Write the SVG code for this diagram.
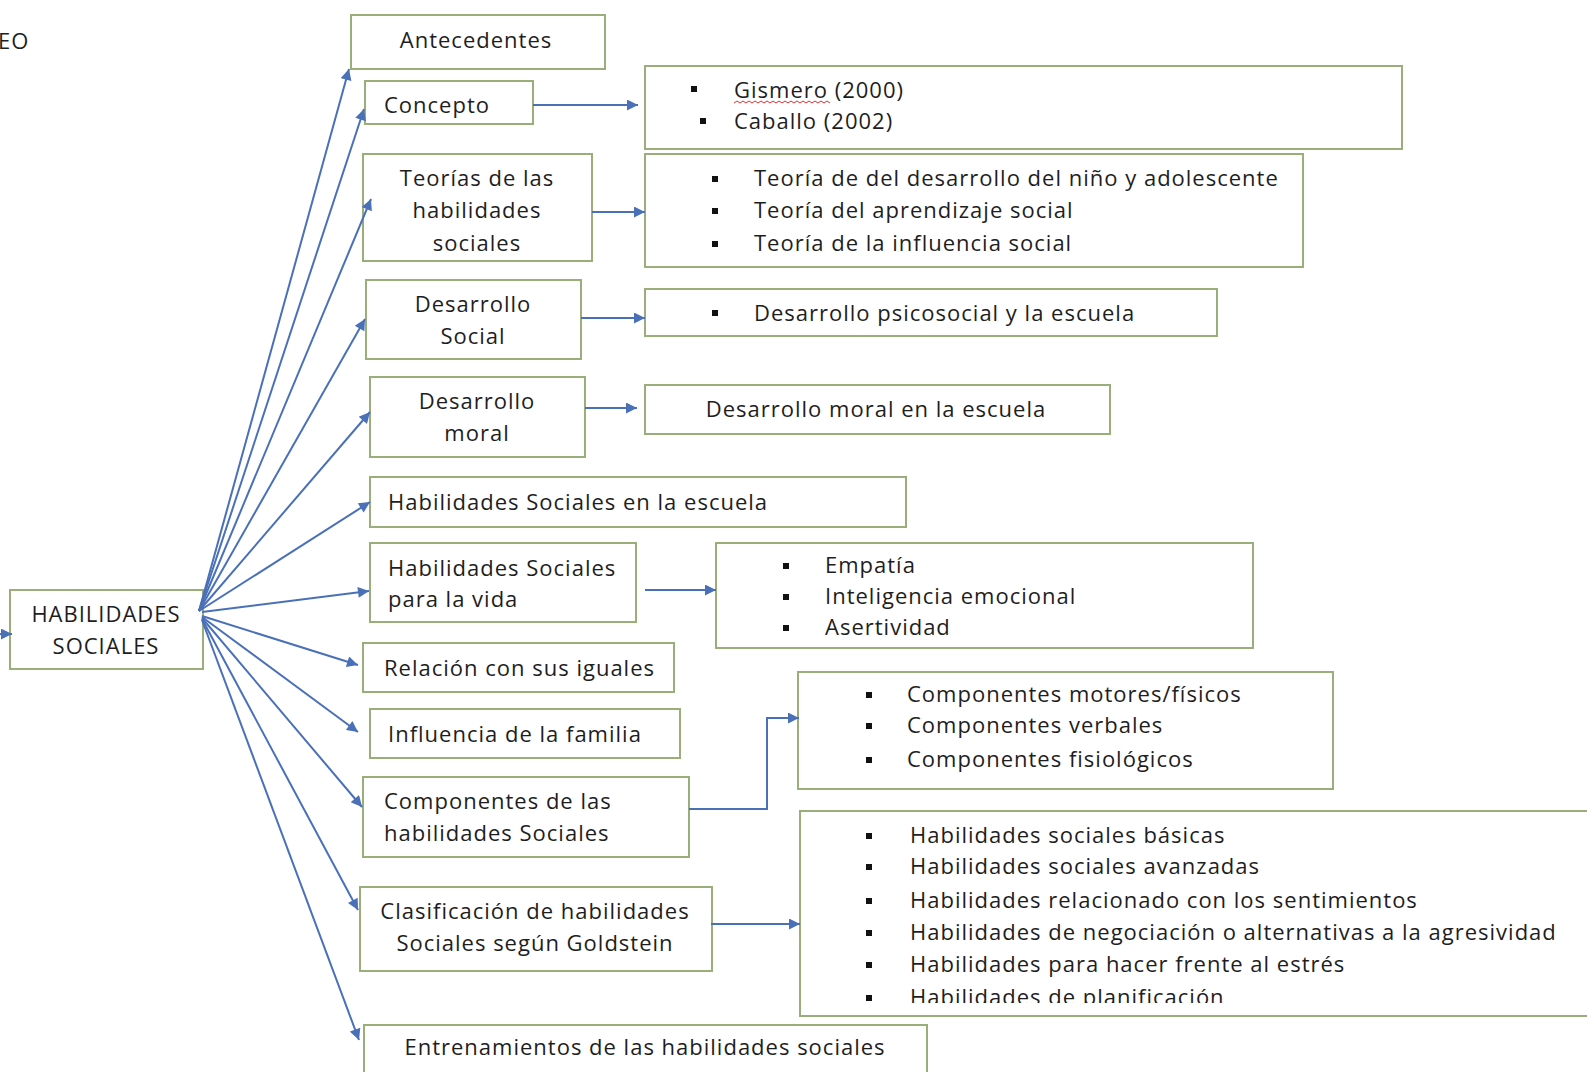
<svg xmlns="http://www.w3.org/2000/svg" width="1587" height="1072" viewBox="0 0 1587 1072">
<style>
  .box{fill:#fff;stroke:#9aae7a;stroke-width:2}
  text{font-family:"Open Sans","Noto Sans",sans-serif;font-size:22px;letter-spacing:1px;fill:#1e1e1e}
  .c{text-anchor:middle}
  .b{fill:#111}
  .con{fill:none;stroke:#4a70b8;stroke-width:2}
</style>
<defs>
  <marker id="ah" viewBox="0 0 10 10" refX="10" refY="5" markerWidth="13" markerHeight="11" markerUnits="userSpaceOnUse" orient="auto">
    <path d="M0,0 L10,5 L0,10 z" fill="#4a70b8"/>
  </marker>
  <clipPath id="clipG"><rect x="800" y="811" width="787" height="192"/></clipPath>
</defs>
<rect width="1587" height="1072" fill="#fff"/>

<text x="-2" y="49">EO</text>

<g id="n-antecedentes">
  <rect class="box" x="351" y="15" width="254" height="54"/>
  <text class="c" x="476" y="48">Antecedentes</text>
</g>
<g id="n-concepto">
  <rect class="box" x="365" y="81" width="168" height="43"/>
  <text x="384" y="113">Concepto</text>
</g>
<g id="n-gismero">
  <rect class="box" x="645" y="66" width="757" height="83"/>
  <rect class="b" x="691" y="86" width="6" height="6"/>
  <text x="734" y="98">Gismero (2000)</text>
  <path d="M734,103 l3,-2 l3,2 l3,-2 l3,2 l3,-2 l3,2 l3,-2 l3,2 l3,-2 l3,2 l3,-2 l3,2 l3,-2 l3,2 l3,-2 l3,2 l3,-2 l3,2 l3,-2 l3,2 l3,-2 l3,2 l3,-2 l3,2 l3,-2 l3,2 l3,-2 l3,2 l3,-2 l3,2 l3,-2 l3,2" fill="none" stroke="#d33" stroke-width="1"/>
  <rect class="b" x="700" y="118" width="6" height="6"/>
  <text x="734" y="129">Caballo (2002)</text>
</g>
<g id="n-teorias">
  <rect class="box" x="363" y="154" width="229" height="107"/>
  <text class="c" x="477" y="186">Teorías de las</text>
  <text class="c" x="477" y="218">habilidades</text>
  <text class="c" x="477" y="251">sociales</text>
</g>
<g id="n-teorias-list">
  <rect class="box" x="645" y="154" width="658" height="113"/>
  <rect class="b" x="712" y="176" width="6" height="6"/>
  <text x="754" y="186">Teoría de del desarrollo del niño y adolescente</text>
  <rect class="b" x="712" y="208" width="6" height="6"/>
  <text x="754" y="218">Teoría del aprendizaje social</text>
  <rect class="b" x="712" y="241" width="6" height="6"/>
  <text x="754" y="251">Teoría de la influencia social</text>
</g>
<g id="n-desarrollo-social">
  <rect class="box" x="366" y="280" width="215" height="79"/>
  <text class="c" x="473" y="312">Desarrollo</text>
  <text class="c" x="473" y="344">Social</text>
</g>
<g id="n-psicosocial">
  <rect class="box" x="645" y="289" width="572" height="47"/>
  <rect class="b" x="712" y="310" width="6" height="6"/>
  <text x="754" y="321">Desarrollo psicosocial y la escuela</text>
</g>
<g id="n-desarrollo-moral">
  <rect class="box" x="370" y="377" width="215" height="80"/>
  <text class="c" x="477" y="409">Desarrollo</text>
  <text class="c" x="477" y="441">moral</text>
</g>
<g id="n-moral-escuela">
  <rect class="box" x="645" y="385" width="465" height="49"/>
  <text class="c" x="876" y="417">Desarrollo moral en la escuela</text>
</g>
<g id="n-hs-escuela">
  <rect class="box" x="370" y="477" width="536" height="50"/>
  <text x="388" y="510">Habilidades Sociales en la escuela</text>
</g>
<g id="n-hs-vida">
  <rect class="box" x="370" y="543" width="266" height="79"/>
  <text x="388" y="576">Habilidades Sociales</text>
  <text x="388" y="607">para la vida</text>
</g>
<g id="n-empatia">
  <rect class="box" x="716" y="543" width="537" height="105"/>
  <rect class="b" x="783" y="563" width="6" height="6"/>
  <text x="825" y="573">Empatía</text>
  <rect class="b" x="783" y="594" width="6" height="6"/>
  <text x="825" y="604">Inteligencia emocional</text>
  <rect class="b" x="783" y="625" width="6" height="6"/>
  <text x="825" y="635">Asertividad</text>
</g>
<g id="n-habilidades-sociales">
  <rect class="box" x="10" y="590" width="193" height="79"/>
  <text class="c" x="106" y="622">HABILIDADES</text>
  <text class="c" x="106" y="654">SOCIALES</text>
</g>
<g id="n-relacion">
  <rect class="box" x="363" y="643" width="311" height="49"/>
  <text x="384" y="676">Relación con sus iguales</text>
</g>
<g id="n-influencia">
  <rect class="box" x="370" y="709" width="310" height="49"/>
  <text x="388" y="742">Influencia de la familia</text>
</g>
<g id="n-componentes-list">
  <rect class="box" x="798" y="672" width="535" height="117"/>
  <rect class="b" x="866" y="692" width="6" height="6"/>
  <text x="907" y="702">Componentes motores/físicos</text>
  <rect class="b" x="866" y="723" width="6" height="6"/>
  <text x="907" y="733">Componentes verbales</text>
  <rect class="b" x="866" y="757" width="6" height="6"/>
  <text x="907" y="767">Componentes fisiológicos</text>
</g>
<g id="n-componentes">
  <rect class="box" x="363" y="777" width="326" height="80"/>
  <text x="384" y="809">Componentes de las</text>
  <text x="384" y="841">habilidades Sociales</text>
</g>
<g id="n-clasificacion">
  <rect class="box" x="360" y="887" width="352" height="84"/>
  <text class="c" x="535" y="919">Clasificación de habilidades</text>
  <text class="c" x="535" y="951">Sociales según Goldstein</text>
</g>
<g id="n-goldstein">
  <rect class="box" x="800" y="811" width="800" height="205"/>
  <g clip-path="url(#clipG)">
    <rect class="b" x="866" y="833" width="6" height="6"/>
    <text x="910" y="843">Habilidades sociales básicas</text>
    <rect class="b" x="866" y="864" width="6" height="6"/>
    <text x="910" y="874">Habilidades sociales avanzadas</text>
    <rect class="b" x="866" y="898" width="6" height="6"/>
    <text x="910" y="908">Habilidades relacionado con los sentimientos</text>
    <rect class="b" x="866" y="930" width="6" height="6"/>
    <text x="910" y="940">Habilidades de negociación o alternativas a la agresividad</text>
    <rect class="b" x="866" y="962" width="6" height="6"/>
    <text x="910" y="972">Habilidades para hacer frente al estrés</text>
    <rect class="b" x="866" y="995" width="6" height="6"/>
    <text x="910" y="1005">Habilidades de planificación</text>
  </g>
</g>
<g id="n-entrenamientos">
  <rect class="box" x="364" y="1025" width="563" height="60"/>
  <text class="c" x="645" y="1055">Entrenamientos de las habilidades sociales</text>
</g>

<g id="connectors">
  <line class="con" x1="0" y1="634" x2="12" y2="634" marker-end="url(#ah)"/>
  <line class="con" x1="199" y1="611" x2="349" y2="69" marker-end="url(#ah)"/>
  <line class="con" x1="199" y1="611" x2="364" y2="109" marker-end="url(#ah)"/>
  <line class="con" x1="199" y1="611" x2="371" y2="199" marker-end="url(#ah)"/>
  <line class="con" x1="199" y1="611" x2="365" y2="319" marker-end="url(#ah)"/>
  <line class="con" x1="199" y1="611" x2="370" y2="412" marker-end="url(#ah)"/>
  <line class="con" x1="199" y1="611" x2="370" y2="502" marker-end="url(#ah)"/>
  <line class="con" x1="202" y1="612" x2="369" y2="591" marker-end="url(#ah)"/>
  <line class="con" x1="202" y1="616" x2="358" y2="665" marker-end="url(#ah)"/>
  <line class="con" x1="202" y1="617" x2="358" y2="732" marker-end="url(#ah)"/>
  <line class="con" x1="202" y1="618" x2="362" y2="807" marker-end="url(#ah)"/>
  <line class="con" x1="202" y1="619" x2="358" y2="910" marker-end="url(#ah)"/>
  <line class="con" x1="202" y1="620" x2="359" y2="1040" marker-end="url(#ah)"/>
  <line class="con" x1="533" y1="105" x2="638" y2="105" marker-end="url(#ah)"/>
  <line class="con" x1="592" y1="212" x2="645" y2="212" marker-end="url(#ah)"/>
  <line class="con" x1="581" y1="318" x2="645" y2="318" marker-end="url(#ah)"/>
  <line class="con" x1="585" y1="408" x2="637" y2="408" marker-end="url(#ah)"/>
  <line class="con" x1="645" y1="590" x2="716" y2="590" marker-end="url(#ah)"/>
  <polyline class="con" points="689,809 767,809 767,718 799,718" marker-end="url(#ah)"/>
  <line class="con" x1="711" y1="924" x2="800" y2="924" marker-end="url(#ah)"/>
</g>
</svg>
